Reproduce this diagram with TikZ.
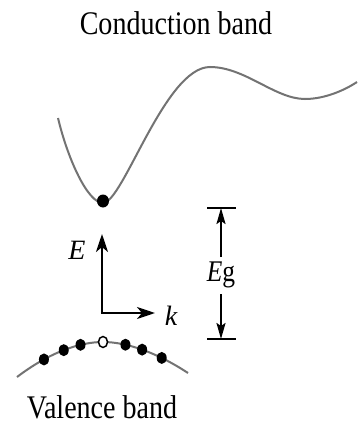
\documentclass[tikz,border=0pt]{standalone}
\usepackage{fontspec}
\setmainfont{Liberation Serif}
\usetikzlibrary{arrows.meta,shapes.geometric}
\begin{document}
\begin{tikzpicture}[x=1pt,y=-1pt,
  band/.style={draw=black!55, line width=2pt},
  axis/.style={draw=black, line width=2.4pt, -{Stealth[length=18pt,width=12pt,inset=5pt]}},
  dimarrow/.style={draw=black, line width=2pt, -{Stealth[length=16pt,width=9pt,inset=3pt]}},
  bar/.style={draw=black, line width=2.4pt},
  elec/.style={ellipse, fill=black, minimum width=10pt, minimum height=12pt, inner sep=0pt},
  hole/.style={ellipse, draw=black, fill=white, line width=1.5pt, minimum width=9pt, minimum height=11pt, inner sep=0pt},
  title/.style={font=\fontsize{33}{33}\selectfont, inner sep=0pt, anchor=base},
  lab/.style={font=\fontsize{28}{28}\selectfont\itshape, inner sep=0pt}]
\useasboundingbox (0,0) rectangle (357,425);
\fill[white] (0,0) rectangle (357,425);
% titles
\node[title] (cb) at (176,35) {\scalebox{0.85}[1]{Conduction band}};
\node[title] (vb) at (102,418) {\scalebox{0.85}[1]{Valence band}};
% conduction band
\draw[band] (58,118) .. controls (68,160) and (88,203) .. (103,203)
  .. controls (123,203) and (165,67) .. (210,67)
  .. controls (245,67) and (275,99) .. (305,99)
  .. controls (325,99) and (345,90) .. (357,82);
\node[elec, minimum width=12pt, minimum height=13pt] (e1) at (103,201) {};
% valence band
\draw[band] (17,377) .. controls (50,352) and (80,342) .. (103,342)
  coordinate[pos=0.28] (p1) coordinate[pos=0.5] (p2) coordinate[pos=0.7] (p3)
  .. controls (126,342) and (156,352) .. (188,373)
  coordinate[pos=0.3] (p4) coordinate[pos=0.5] (p5) coordinate[pos=0.72] (p6);
\node[elec] (v1) at (p1) {};
\node[elec] (v2) at (p2) {};
\node[elec] (v3) at (p3) {};
\node[hole] (h) at (103,342) {};
\node[elec] (v4) at (p4) {};
\node[elec] (v5) at (p5) {};
\node[elec] (v6) at (p6) {};
% axes
\coordinate (o) at (102,313);
\coordinate (ey) at (102,234);
\coordinate (kx) at (155,313);
\draw[axis] (o) -- (ey);
\draw[axis] (o) ++(-1.2,0) -- (kx);
\node[lab] (E) at (77,250) {E};
\node[lab] (k) at (171,316) {k};
% band gap
\coordinate (t1) at (207,208); \coordinate (t2) at (236,208);
\coordinate (b1) at (207,339); \coordinate (b2) at (236,339);
\draw[bar] (t1) -- (t2);
\draw[bar] (b1) -- (b2);
\node[lab, font=\fontsize{30}{30}\selectfont] (eg) at (221,275) {\scalebox{0.85}[1]{\textit{E}g}};
\coordinate (top) at (221,208);
\coordinate (bot) at (221,339);
\coordinate (a1) at (221,257);
\coordinate (a2) at (221,294);
\draw[dimarrow] (a1) -- (top);
\draw[dimarrow] (a2) -- (bot);
\end{tikzpicture}
\end{document}
